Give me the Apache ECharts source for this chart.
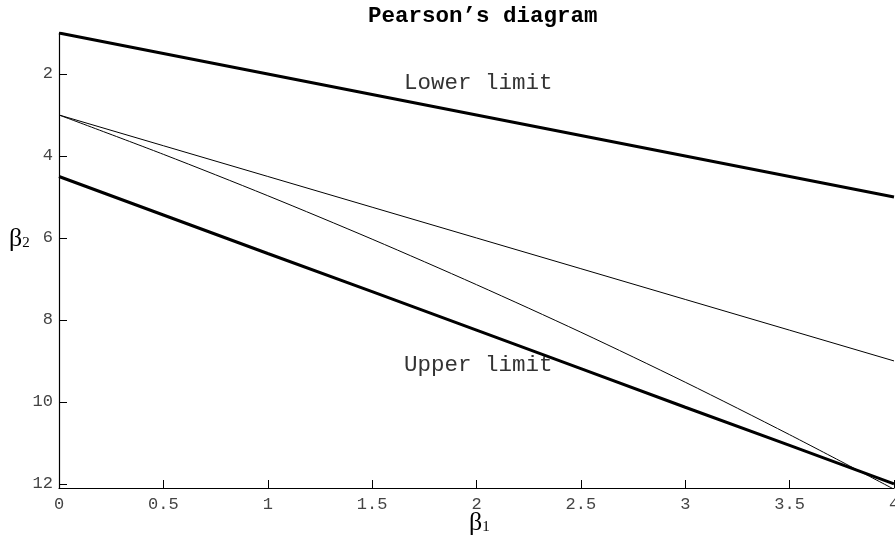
<!DOCTYPE html>
<html>
<head>
<meta charset="utf-8">
<script src="https://cdn.jsdelivr.net/npm/echarts@6/dist/echarts.min.js"></script>
<style>
  html, body { margin: 0; padding: 0; background: #fff; }
  #box { width: 895px; height: 540px; }
</style>
</head>
<body>
<div id="box"></div>
<script>
// beta1 values where the lines were read
var beta1 = [0, 0.5, 1, 1.5, 2, 2.5, 3, 3.5, 4];
// lower limit (thick, top)
var lowerLimit = [1, 1.5, 2, 2.5, 3, 3.5, 4, 4.5, 5];
// upper limit (thick, bottom)
var upperLimit = [4.5, 5.44, 6.38, 7.31, 8.25, 9.19, 10.13, 11.06, 12];
// straight thin line
var typeIII = [3, 3.75, 4.5, 5.25, 6, 6.75, 7.5, 8.25, 9];
// curved thin line
var typeV = [3, 3.96, 4.97, 6.03, 7.14, 8.3, 9.52, 10.8, 12.13];

var xTicks = [0, 0.5, 1, 1.5, 2, 2.5, 3, 3.5, 4];
var yTicks = [2, 4, 6, 8, 10, 12];

function pairs(ys) {
  var out = [];
  for (var i = 0; i < beta1.length; i++) out.push([beta1[i], ys[i]]);
  return out;
}

var monoFont = '"Liberation Mono", "DejaVu Sans Mono", monospace';
var serifFont = '"Liberation Serif", "DejaVu Serif", serif';

var myChart = echarts.init(document.getElementById('box'));
var option = {
  animation: false,
  title: {
    text: 'Pearson\u2019s diagram',
    left: 363,
    top: 0,
    textStyle: { fontFamily: monoFont, fontWeight: 'bold', fontSize: 22.5, color: '#000' }
  },
  grid: { left: 59, right: 1, top: 33, bottom: 52, outerBoundsMode: 'none', containLabel: false },
  xAxis: {
    type: 'value',
    min: 0,
    max: 4,
    interval: 0.5,
    axisLine: { lineStyle: { color: '#000', width: 1.2 } },
    axisTick: { inside: true, length: 8, lineStyle: { color: '#000' } },
    axisLabel: {
      fontFamily: monoFont, fontSize: 17, color: '#444', margin: 8,
      showMinLabel: true, showMaxLabel: true,
      customValues: xTicks
    },
    splitLine: { show: false }
  },
  yAxis: {
    type: 'value',
    inverse: true,
    min: 1,
    max: 12.1,
    axisLine: { show: true, lineStyle: { color: '#000', width: 1.2 } },
    axisTick: { inside: true, length: 8, lineStyle: { color: '#000' }, customValues: yTicks },
    axisLabel: {
      fontFamily: monoFont, fontSize: 17, color: '#444', margin: 6,
      customValues: yTicks
    },
    splitLine: { show: false }
  },
  series: [
    { type: 'line', data: pairs(lowerLimit), symbol: 'none', lineStyle: { color: '#000', width: 3 } },
    { type: 'line', data: pairs(upperLimit), symbol: 'none', lineStyle: { color: '#000', width: 3 } },
    { type: 'line', data: pairs(typeIII), symbol: 'none', lineStyle: { color: '#000', width: 1 } },
    { type: 'line', data: pairs(typeV), symbol: 'none', smooth: 0.3, lineStyle: { color: '#000', width: 1 } }
  ],
  graphic: [
    { type: 'text', left: 404, top: 72, style: { text: 'Lower limit', font: '22.5px ' + monoFont, fill: '#333' } },
    { type: 'text', left: 404, top: 354, style: { text: 'Upper limit', font: '22.5px ' + monoFont, fill: '#333' } },
    {
      type: 'text', left: 9, top: 226,
      style: {
        text: '{b|\u03b2}{s|2}',
        rich: {
          b: { fontFamily: serifFont, fontSize: 26, fill: '#000' },
          s: { fontFamily: serifFont, fontSize: 15, fill: '#000', padding: [8, 0, 0, 0] }
        }
      }
    },
    {
      type: 'text', left: 469, top: 510,
      style: {
        text: '{b|\u03b2}{s|1}',
        rich: {
          b: { fontFamily: serifFont, fontSize: 26, fill: '#000' },
          s: { fontFamily: serifFont, fontSize: 15, fill: '#000', padding: [8, 0, 0, 0] }
        }
      }
    }
  ]
};
option && myChart.setOption(option);
</script>
</body>
</html>
